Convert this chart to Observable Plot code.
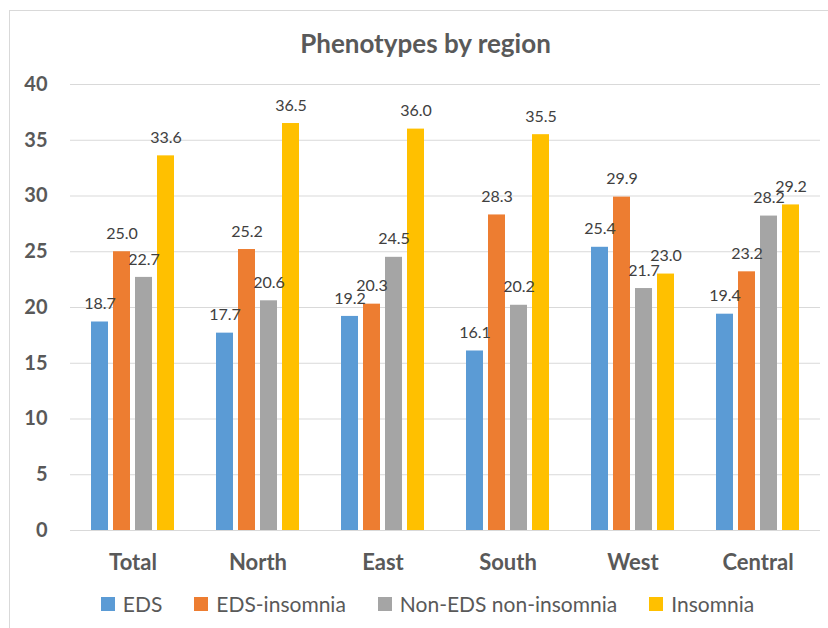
<!DOCTYPE html>
<html>
<head>
<meta charset="utf-8">
<script src="https://cdn.jsdelivr.net/npm/d3@7"></script>
<script src="https://cdn.jsdelivr.net/npm/@observablehq/plot@0.6"></script>
<style>
  html, body { margin: 0; padding: 0; background: #fff; }
  #chart { position: relative; width: 828px; height: 628px; overflow: hidden; font-family: Lato, "Open Sans", sans-serif; }
  #frame { position: absolute; left: 9px; top: 10px; width: 900px; height: 700px; border-left: 1.5px solid #d9d9d9; border-top: 1.5px solid #d9d9d9; box-sizing: border-box; }
  #title { position: absolute; left: 0; width: 851px; top: 27px; text-align: center; font-weight: 700; font-size: 26px; color: #595959; }
  #plot { position: absolute; left: 0; top: 0; }
  #legend { position: absolute; left: 0; width: 855px; top: 591px; display: flex; justify-content: center; gap: 32px; font-size: 21px; color: #595959; }
  .item { display: flex; align-items: center; gap: 8px; }
  .sw { width: 14px; height: 14px; display: inline-block; }
</style>
</head>
<body>
<div id="chart">
  <div id="frame"></div>
  <div id="plot"></div>
  <div id="title"></div>
  <div id="legend"></div>
</div>
<script>
const title = "Phenotypes by region";
const regions = ["Total", "North", "East", "South", "West", "Central"];
const series = ["EDS", "EDS-insomnia", "Non-EDS non-insomnia", "Insomnia"];
const colors = ["#5B9BD5", "#ED7D31", "#A5A5A5", "#FFC000"];
const eds =          [18.7, 17.7, 19.2, 16.1, 25.4, 19.4];
const edsInsomnia =  [25.0, 25.2, 20.3, 28.3, 29.9, 23.2];
const nonEds =       [22.7, 20.6, 24.5, 20.2, 21.7, 28.2];
const insomnia =     [33.6, 36.5, 36.0, 35.5, 23.0, 29.2];
const yTicks = [0, 5, 10, 15, 20, 25, 30, 35, 40];

const seriesValues = [eds, edsInsomnia, nonEds, insomnia];
const data = [];
regions.forEach((r, i) => {
  series.forEach((s, j) => {
    data.push({region: r, series: s, value: seriesValues[j][i]});
  });
});

document.getElementById("title").textContent = title;

const font = "Lato, 'Open Sans', sans-serif";
const chart = Plot.plot({
  width: 828,
  height: 600,
  marginLeft: 68,
  marginRight: 6,
  marginTop: 84,
  marginBottom: 70,
  style: {fontFamily: font, background: "transparent", overflow: "visible"},
  fx: {domain: regions, paddingInner: 0, paddingOuter: 0, label: null},
  x: {domain: series, paddingInner: 0.217, paddingOuter: 0.84, axis: null},
  y: {domain: [0, 40], label: null},
  color: {domain: series, range: colors},
  marks: [
    Plot.gridY(yTicks, {stroke: "#d9d9d9", strokeOpacity: 1, strokeWidth: 1.2}),
    Plot.axisY(yTicks, {tickSize: 0, tickPadding: 23, fontSize: 20, fontWeight: "bold", fill: "#595959", label: null}),
    Plot.axisFx({anchor: "bottom", tickSize: 0, tickPadding: 24, fontSize: 22, fontWeight: "bold", fill: "#595959", label: null}),
    Plot.barY(data, {fx: "region", x: "series", y: "value", fill: "series"}),
    Plot.text(data, {fx: "region", x: "series", y: "value", text: d => d.value.toFixed(1), dy: -18, fontSize: 16, fill: "#404040"})
  ]
});
document.getElementById("plot").appendChild(chart);

const legend = document.getElementById("legend");
series.forEach((s, i) => {
  const it = document.createElement("div");
  it.className = "item";
  const sw = document.createElement("span");
  sw.className = "sw";
  sw.style.background = colors[i];
  const t = document.createElement("span");
  t.textContent = s;
  it.appendChild(sw);
  it.appendChild(t);
  legend.appendChild(it);
});
</script>
</body>
</html>
